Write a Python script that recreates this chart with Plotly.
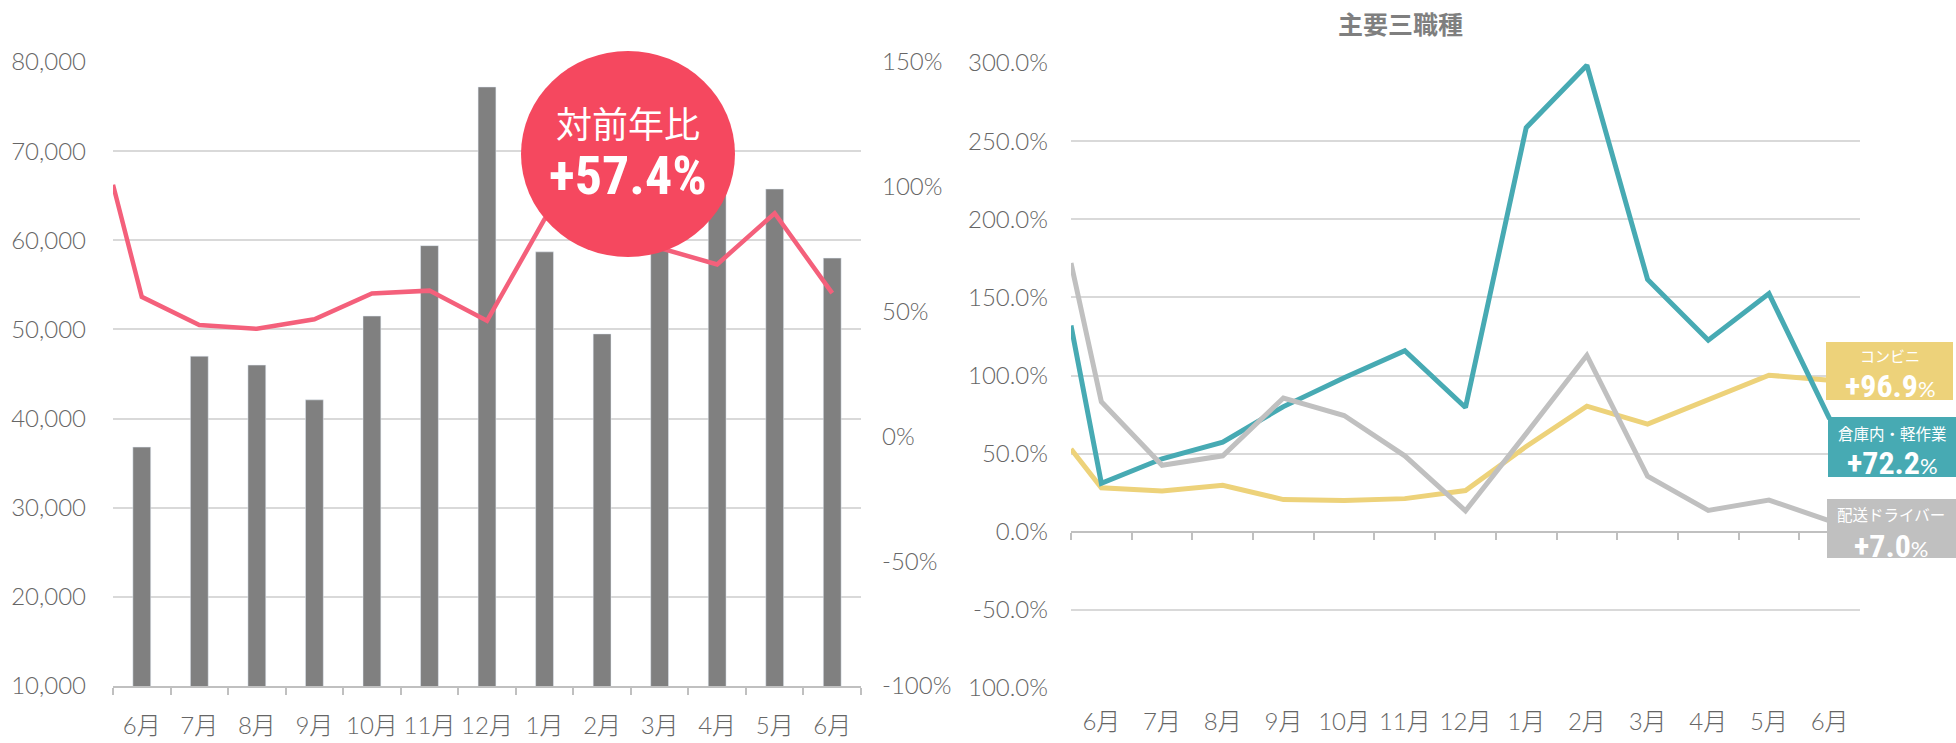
import plotly.graph_objects as go

# ---------------- data ----------------
months = ["6月", "7月", "8月", "9月", "10月", "11月", "12月", "1月", "2月", "3月", "4月", "5月", "6月"]
postings = [36800, 47000, 46000, 42100, 51500, 59400, 77200, 58700, 49500, 62000, 66500, 65750, 58000]
yoy_lead = 100.8          # value where the YoY line enters the left plot edge
yoy = [55.9, 44.6, 43.1, 46.9, 57.3, 58.4, 46.3, 87.0, 100.0, 75.5, 68.9, 89.4, 57.4]

warehouse_lead = 132.0
warehouse = [31.0, 46.7, 57.4, 80.1, 98.6, 115.9, 79.5, 258.6, 298.6, 161.5, 122.6, 152.4, 72.2]
conv_lead = 53.0
conv = [28.2, 26.1, 29.7, 20.6, 20.0, 21.2, 26.4, 54.6, 80.4, 68.9, 84.7, 100.2, 96.9]
driver_lead = 172.0
driver = [83.2, 42.5, 48.6, 85.6, 74.4, 48.6, 13.4, 62.8, 112.9, 35.5, 13.7, 20.3, 7.0]

left_ticks = [10000, 20000, 30000, 40000, 50000, 60000, 70000, 80000]
pct_ticks = [-100, -50, 0, 50, 100, 150]
pct_ticktext = ["-100%", "-50%", "0%", "50%", "100%", "150%"]
r_ticks = [-100, -50, 0, 50, 100, 150, 200, 250, 300]
r_ticktext = ["100.0%", "-50.0%", "0.0%", "50.0%", "100.0%", "150.0%", "200.0%", "250.0%", "300.0%"]

# ---------------- style ----------------
W, H = 1956, 743
GRID = "#D9D9D9"
TICK = "#666666"
BAR = "#808080"
PINK = "#F4607B"
BUBBLE = "#F5485F"
TEAL = "#47AAB3"
YELLOW = "#EDD27A"
GRAY = "#C0C0C0"
FONT = "Lato, 'Noto Sans CJK JP', sans-serif"
NUMFONT = "'Roboto Condensed', 'DejaVu Sans Condensed', 'Liberation Sans Narrow', Roboto, sans-serif"
JPFONT = "'Noto Sans CJK JP', sans-serif"

def px(x):
    return x / W

def py(y):
    return 1 - y / H

pos = list(range(len(months)))
xl = [-0.5] + pos
bounds = [i - 0.5 for i in range(len(months) + 1)]

fig = go.Figure()
fig.add_trace(go.Bar(x=pos, y=postings, marker_color=BAR, xaxis="x", yaxis="y",
                     showlegend=False, hoverinfo="skip"))
fig.add_trace(go.Scatter(x=xl, y=[yoy_lead] + yoy, mode="lines", line=dict(color=PINK, width=4.5),
                         xaxis="x", yaxis="y2", showlegend=False, hoverinfo="skip"))

fig.add_trace(go.Scatter(x=xl, y=[conv_lead] + conv, mode="lines", line=dict(color=YELLOW, width=5),
                         xaxis="x3", yaxis="y3", showlegend=False, hoverinfo="skip"))
fig.add_trace(go.Scatter(x=xl, y=[warehouse_lead] + warehouse, mode="lines", line=dict(color=TEAL, width=5),
                         xaxis="x3", yaxis="y3", showlegend=False, hoverinfo="skip"))
fig.add_trace(go.Scatter(x=xl, y=[driver_lead] + driver, mode="lines", line=dict(color=GRAY, width=5),
                         xaxis="x3", yaxis="y3", showlegend=False, hoverinfo="skip"))
# invisible trace to register the free axis
fig.add_trace(go.Scatter(x=[None], y=[None], xaxis="x4", yaxis="y3", showlegend=False,
                         hoverinfo="skip", mode="lines"))

tickfont = dict(family=FONT, size=24, color=TICK, weight=300)
yfont = dict(family=FONT, size=24, color=TICK, weight=300)

fig.update_layout(
    width=W, height=H, margin=dict(l=0, r=0, t=0, b=0, autoexpand=False),
    paper_bgcolor="white", plot_bgcolor="white",
    bargap=0.69,
    xaxis=dict(domain=[px(113), px(861)], anchor="y", range=[-0.5, 12.5], automargin=False,
               tickmode="array", tickvals=pos, ticktext=months, ticks="",
               showline=True, linecolor=GRAY, linewidth=2, showgrid=False, zeroline=False,
               minor=dict(tickmode="array", tickvals=bounds, ticks="outside", ticklen=7,
                          tickwidth=2, tickcolor=GRAY, showgrid=False),
               tickfont=tickfont, ticklabelstandoff=17),
    yaxis=dict(domain=[py(686), py(62)], anchor="x", range=[10000, 80000], automargin=False,
               tickmode="array", tickvals=left_ticks, tickformat=",",
               showgrid=True, gridcolor=GRID, gridwidth=2, zeroline=False, showline=False,
               ticks="", tickfont=yfont, ticklabelstandoff=26),
    yaxis2=dict(overlaying="y", side="right", anchor="x", range=[-100, 150], automargin=False,
                tickmode="array", tickvals=pct_ticks, ticktext=pct_ticktext,
                showgrid=False, zeroline=False, showline=False, ticks="",
                tickfont=yfont, ticklabelstandoff=20),
    xaxis3=dict(domain=[px(1071), px(1860)], anchor="y3", range=[-0.5, 12.5], automargin=False,
                tickmode="array", tickvals=pos, ticktext=months, ticks="",
                showline=False, showgrid=False, zeroline=False,
                tickfont=tickfont, ticklabelstandoff=17),
    xaxis4=dict(overlaying="x3", anchor="free", position=py(532), range=[-0.5, 12.5], automargin=False,
                tickmode="array", tickvals=bounds, ticks="outside", ticklen=7,
                tickwidth=2, tickcolor=GRAY, showticklabels=False,
                showline=True, linecolor=GRAY, linewidth=2, showgrid=False, zeroline=False),
    yaxis3=dict(domain=[py(688), py(63)], anchor="x3", range=[-100, 300], automargin=False,
                tickmode="array", tickvals=r_ticks, ticktext=r_ticktext,
                showgrid=True, gridcolor=GRID, gridwidth=2, zeroline=False, showline=False,
                ticks="", tickfont=yfont, ticklabelstandoff=22),
)

shapes = [
    dict(type="circle", xref="paper", yref="paper", x0=px(521), x1=px(735), y0=py(257), y1=py(51),
         fillcolor=BUBBLE, line=dict(width=0), layer="above"),
    dict(type="rect", xref="paper", yref="paper", x0=px(1826), x1=px(1953), y0=py(400), y1=py(342),
         fillcolor=YELLOW, line=dict(width=0), layer="above"),
    dict(type="rect", xref="paper", yref="paper", x0=px(1828), x1=px(1956), y0=py(477), y1=py(417),
         fillcolor=TEAL, line=dict(width=0), layer="above"),
    dict(type="rect", xref="paper", yref="paper", x0=px(1827), x1=px(1956), y0=py(558), y1=py(499),
         fillcolor=GRAY, line=dict(width=0), layer="above"),
]
fig.update_layout(shapes=shapes)

def ann(x, y, text, size, family, color="white", weight="normal"):
    return dict(xref="paper", yref="paper", x=px(x), y=py(y), xanchor="center", yanchor="middle",
                text=text, showarrow=False, font=dict(family=family, size=size, color=color, weight=weight))

def val(v):
    return f"{v}<span style='font-size:22px;font-weight:normal;font-family:Lato,sans-serif'>%</span>"

annotations = [
    ann(628, 122, "対前年比", 36, JPFONT),
    ann(628, 176, "+57.4%", 54, NUMFONT, weight="bold"),
    ann(1400, 23, "主要三職種", 25, JPFONT, color="#7F7F7F", weight="bold"),
    ann(1890, 355, "コンビニ", 15, JPFONT),
    ann(1890, 386, val("+96.9"), 32, NUMFONT, weight="bold"),
    ann(1892, 433, "倉庫内・軽作業", 15.5, JPFONT),
    ann(1892, 463, val("+72.2"), 32, NUMFONT, weight="bold"),
    ann(1891, 514, "配送ドライバー", 15.5, JPFONT),
    ann(1891, 546, val("+7.0"), 32, NUMFONT, weight="bold"),
]
fig.update_layout(annotations=annotations)

fig.write_html("out.html", config={"displayModeBar": False},
               post_script="document.body.style.margin='0';document.body.style.overflow='hidden';")
